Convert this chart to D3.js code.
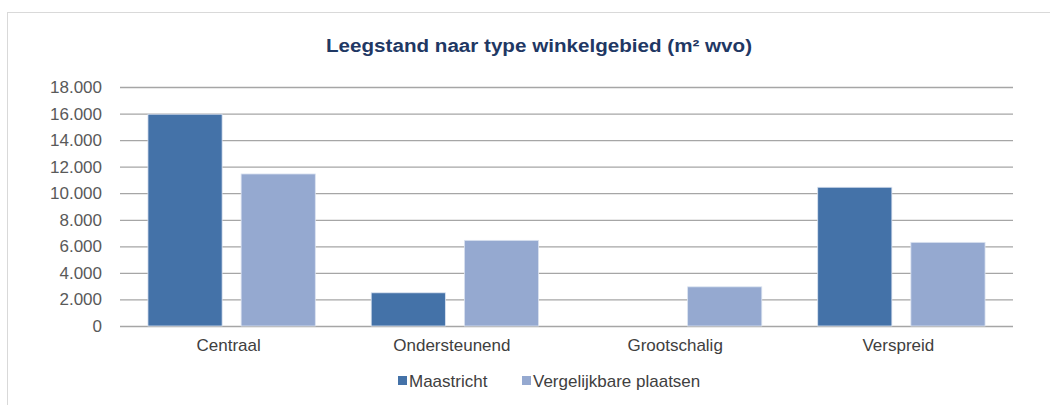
<!DOCTYPE html>
<html lang="nl">
<head>
    <meta charset="UTF-8">
    <title>Leegstand naar type winkelgebied</title>
    <style>
        body { margin: 0; background: #fff; font-family: "Liberation Sans", Arial, sans-serif; }
        svg { display: block; }
    </style>
</head>
<body>
    <div id="chart"></div>
    <script src="https://cdnjs.cloudflare.com/ajax/libs/d3/7.8.5/d3.min.js"></script>
    <script>
        // data
        const categories = ["Centraal", "Ondersteunend", "Grootschalig", "Verspreid"];
        const series = ["Maastricht", "Vergelijkbare plaatsen"];
        const maastricht = [15950, 2500, 0, 10450];
        const vergelijkbaar = [11450, 6450, 2950, 6300];
        const yTicks = [0, 2000, 4000, 6000, 8000, 10000, 12000, 14000, 16000, 18000];
        const colors = ["#4472a8", "#95a9d0"];

        const width = 1050, height = 405;
        const svg = d3.select("#chart").append("svg")
            .attr("width", width)
            .attr("height", height);

        // chart frame
        svg.append("rect")
            .attr("x", 7.5).attr("y", 12.5)
            .attr("width", width).attr("height", height)
            .attr("fill", "none")
            .attr("stroke", "#d9d9d9");

        svg.append("text")
            .attr("x", 326).attr("y", 52)
            .attr("font-size", 18)
            .attr("font-weight", "bold")
            .attr("fill", "#1f3864")
            .attr("textLength", 426)
            .attr("lengthAdjust", "spacingAndGlyphs")
            .text("Leegstand naar type winkelgebied  (m² wvo)");

        const x0 = d3.scaleBand().domain(categories).range([120, 1013]);
        const x1 = d3.scaleBand().domain(series).range([0, x0.bandwidth()])
            .paddingInner(0.204).paddingOuter(0.3);
        const y = d3.scaleLinear().domain([0, 18000]).range([326, 87]);

        const nl = d3.formatLocale({ decimal: ",", thousands: ".", grouping: [3], currency: ["€", ""] });
        const fmt = nl.format(",d");

        // gridlines
        const yAxis = svg.append("g")
            .attr("transform", "translate(120,0)")
            .call(d3.axisLeft(y).tickValues(yTicks).tickSize(-(1013 - 120)).tickFormat(fmt).tickPadding(18));
        yAxis.select(".domain").remove();
        yAxis.selectAll(".tick line").attr("stroke", "#a6a6a6").attr("stroke-width", 1.3);
        yAxis.selectAll(".tick text")
            .attr("fill", "#595959")
            .attr("font-size", 17)
            .attr("font-family", "Liberation Sans, Arial, sans-serif");

        const rows = categories.map((c, i) => ({ cat: c, values: [maastricht[i], vergelijkbaar[i]] }));

        const groups = svg.append("g").selectAll("g")
            .data(rows).enter().append("g")
            .attr("transform", d => `translate(${x0(d.cat)},0)`);

        groups.selectAll("rect")
            .data(d => d.values.map((v, j) => ({ s: series[j], v: v, j: j })))
            .enter().append("rect")
            .filter(d => d.v > 0)
            .attr("x", d => x1(d.s))
            .attr("width", x1.bandwidth())
            .attr("y", d => y(d.v))
            .attr("height", d => y(0) - y(d.v))
            .attr("fill", d => colors[d.j])
            .attr("stroke", "#dbe3f0")
            .attr("stroke-width", 0.8);

        // category labels
        const xAxis = svg.append("g")
            .attr("transform", "translate(-3,326)")
            .call(d3.axisBottom(x0).tickSize(0).tickPadding(13));
        xAxis.select(".domain").remove();
        xAxis.selectAll(".tick text")
            .attr("fill", "#404040")
            .attr("font-size", 17)
            .attr("font-family", "Liberation Sans, Arial, sans-serif");

        // legend
        const legendX = [398, 522];
        const legend = svg.append("g").selectAll("g")
            .data(series).enter().append("g")
            .attr("transform", (d, i) => `translate(${legendX[i]},0)`);
        legend.append("rect")
            .attr("x", 0).attr("y", 376)
            .attr("width", 9).attr("height", 9)
            .attr("fill", (d, i) => colors[i]);
        legend.append("text")
            .attr("x", 11).attr("y", 387)
            .attr("font-size", 17)
            .attr("fill", "#404040")
            .text(d => d);
    </script>
</body>
</html>
